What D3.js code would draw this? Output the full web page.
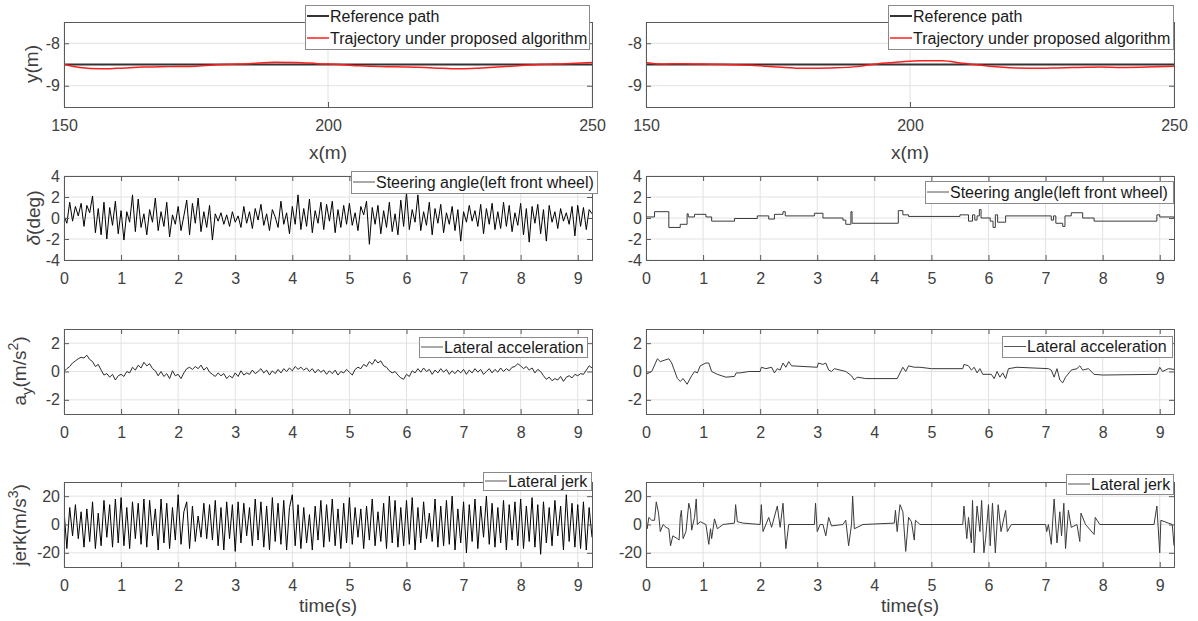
<!DOCTYPE html>
<html>
<head>
<meta charset="utf-8">
<script src="https://cdn.jsdelivr.net/npm/d3@7"></script>
<style>
    body { margin: 0; background: #fff; }
    svg { display: block; font-family: "Liberation Sans", Arial, sans-serif; }
</style>
</head>
<body>
<svg id="chart" width="1198" height="621"></svg>
<script>
// ---- row 1: path tracking ----
var pathX = [150, 153, 157, 160, 165, 170, 175, 180, 185, 190, 194, 198, 202, 206, 210, 215, 220, 225, 228, 232, 236, 240, 245, 250];
var refPathY = [-8.5, -8.5, -8.5, -8.5, -8.5, -8.5, -8.5, -8.5, -8.5, -8.5, -8.5, -8.5, -8.5, -8.5, -8.5, -8.5, -8.5, -8.5, -8.5, -8.5, -8.5, -8.5, -8.5, -8.5];
var trajLeftY = [-8.5, -8.57, -8.6, -8.59, -8.56, -8.55, -8.54, -8.5, -8.48, -8.45, -8.45, -8.48, -8.5, -8.53, -8.55, -8.56, -8.58, -8.6, -8.59, -8.56, -8.53, -8.5, -8.48, -8.45];
var trajRightY = [-8.45, -8.49, -8.48, -8.49, -8.5, -8.52, -8.56, -8.59, -8.58, -8.55, -8.48, -8.44, -8.41, -8.41, -8.47, -8.54, -8.58, -8.59, -8.58, -8.57, -8.56, -8.57, -8.56, -8.54];

// ---- left column, sampled every 0.05 s ----
var SAMPLE_DT = 0.05;
var deltaLeft = [
    0.2, -0.5, 1.5, -0.3, 1.1, 0.2, 1.4, -0.8, 1.2, 0.5, 2.1, -1.4, 0.9, -1.6, 1.5, -2.0, 1.0, -0.7, 1.6, -1.5,
    0.7, -2.1, 0.6, -0.4, 2.2, -1.3, 1.8, -0.9, 0.4, -1.6, 0.8, -0.4, 1.9, -1.2, 0.6, -0.8, 1.5, -1.8, 0.3, -0.6,
    1.1, -1.2, 0.2, 1.7, -1.6, 1.4, -0.5, 1.9, -1.3, 0.6, -0.9, 1.2, -2.1, 0.4, -0.3, 0.5, -0.6, 0.3, -0.8, 0.6,
    -0.4, 0.2, -0.9, 1.1, -0.5, 0.6, -1.0, 0.9, -0.2, 1.3, -0.7, 0.4, -1.2, 0.8, 0.1, -0.9, 1.6, -0.6, 0.5, -1.5,
    1.1, -0.6, 2.2, -1.1, 0.9, -0.8, 1.8, -1.4, 0.7, -0.5, 1.5, -1.1, 1.3, -0.3, 1.6, -1.4, 0.8, -0.9, 1.2, -0.6,
    1.4, -0.7, 0.5, -1.2, 1.1, 0.3, 1.6, -2.5, 1.0, -0.6, 1.2, -1.5, 0.7, -0.9, 1.5, -1.3, 0.4, -1.6, 1.7, -0.8,
    2.4, -1.1, 0.8, -0.4, 2.2, -1.2, 0.6, -0.7, 1.5, -1.6, 0.9, -0.5, 1.3, -1.4, 0.5, -0.6, 1.1, -1.2, 0.8, -2.2,
    0.6, -0.4, 1.2, -0.3, 0.7, -0.8, 1.3, -1.5, 0.9, -0.6, 1.4, -1.1, 0.6, -1.0, 1.5, -0.8, 1.2, -1.3, 0.5, -0.7,
    1.4, -1.6, 0.9, -2.3, 1.1, -0.5, 1.3, -1.5, 0.8, -2.2, 1.2, -0.4, 0.6, -1.0, 0.9, -0.3, 0.5, -0.6, 1.1, -1.7,
    1.2, -0.8, 1.0, -1.1, 0.8, 0.4
];
var ayLeft = [
    0.0, 0.2, 0.35, 0.6, 0.75, 0.9, 1.0, 0.95, 1.15, 0.85, 0.7, 0.35, 0.5, 0.1, -0.25, -0.15, -0.4, -0.2, -0.6, -0.3,
    -0.2, -0.35, 0.0, -0.1, 0.3, 0.1, 0.45, 0.25, 0.65, 0.4, 0.55, 0.2, 0.05, -0.3, 0.0, -0.35, -0.15, -0.5, 0.05, -0.3,
    -0.2, -0.5, -0.1, 0.2, 0.3, 0.15, 0.35, 0.2, 0.45, 0.1, 0.3, -0.05, -0.2, -0.35, -0.1, -0.3, -0.15, -0.5, -0.3, -0.45,
    -0.1, -0.35, 0.05, -0.25, -0.1, -0.2, 0.1, -0.15, 0.0, 0.2, -0.1, 0.1, -0.25, 0.05, -0.15, 0.15, -0.1, 0.2, 0.0, 0.25,
    0.05, 0.35, 0.15, 0.3, 0.1, 0.25, 0.0, 0.2, -0.1, 0.15, -0.05, 0.1, -0.2, 0.05, -0.15, 0.1, -0.25, 0.0, -0.1, 0.15,
    -0.05, -0.25, 0.15, 0.3, 0.2, 0.5, 0.35, 0.7, 0.5, 0.85, 0.6, 0.75, 0.4, 0.3, 0.05, -0.1, 0.0, -0.25, -0.45, -0.55,
    -0.2, -0.35, 0.05, -0.1, 0.2, -0.05, 0.25, 0.0, 0.15, -0.2, 0.1, -0.1, 0.2, -0.05, 0.15, -0.2, 0.05, -0.15, 0.1, -0.1,
    0.15, -0.2, 0.1, -0.1, 0.2, -0.05, 0.15, -0.2, 0.0, 0.2, -0.1, 0.15, -0.05, 0.25, 0.0, 0.2, 0.05, 0.3, 0.35, 0.55,
    0.4, 0.2, 0.35, 0.1, 0.25, -0.1, 0.15, 0.0, -0.3, -0.55, -0.4, -0.65, -0.5, -0.6, -0.35, -0.7, -0.4, -0.3, -0.45, -0.2,
    -0.3, -0.15, -0.2, 0.1, 0.4, 0.25
];
var jerkLeft = [
    10, -17, 12, -8, 14, -10, 9, -16, 11, -12, 16, -17, 8, -15, 17, -9, 14, -16, 18, -13,
    19, -15, 12, -17, 16, -10, 15, -14, 18, -16, 17, -8, 11, -18, 18, -13, 15, -17, 12, -11,
    21, -14, 9, 16, -17, 13, -12, 6, -9, 15, -10, 14, -11, 17, -15, 12, -18, 16, -10, 14,
    -19, 16, -13, 15, -8, 12, -15, 18, -11, 16, -16, 13, -18, 19, -12, 15, -14, 17, -18, 12,
    21, -15, 14, -17, 12, -13, 7, -18, 13, -11, 17, -16, 14, -12, 18, -15, 11, -17, 15, -13,
    19, -14, 12, -9, 11, -17, 13, -11, 18, -15, 9, -12, 15, -17, 20, -13, 17, -16, 12, -15,
    17, -14, 19, -18, 12, -13, 16, -10, 8, -12, 18, -16, 13, -15, 17, -14, 20, -18, 11, -13,
    16, -20, 14, -12, 18, -17, 13, -9, 20, -14, 15, -16, 12, -13, 17, -18, 14, -11, 16, -15,
    18, -17, 13, -12, 19, -16, 14, -21, 16, -13, 12, -15, 17, -8, 13, -18, 21, -12, 15, -16,
    14, -17, 16, -18, 12, -9
];

// ---- right column, breakpoints ----
var deltaRightT = [0, 0.15, 0.4, 0.6, 0.72, 0.74, 0.85, 1.05, 1.15, 1.55, 1.95, 2.15, 2.25, 2.4, 2.44, 2.95, 3.1, 3.45, 3.5, 3.59, 3.61, 4.42, 4.5, 4.6, 5.5, 5.65, 5.72, 5.76, 5.8, 5.84, 5.87, 6.03, 6.08, 6.12, 6.16, 6.3, 7.1, 7.14, 7.18, 7.3, 7.34, 7.45, 7.65, 7.85, 8.95, 9.0, 9.25];
var deltaRight = [0.1, 0.6, -0.9, -0.6, 0.4, 0.1, 0.35, 0.1, -0.3, -0.05, 0.2, -0.1, 0.35, 0.6, 0.2, 0.45, 0, -0.2, -0.6, 0.6, -0.5, 0.7, 0.3, 0.15, 0.3, -0.3, 0.3, -0.2, 0.2, 0.8, 0, -0.3, -0.9, 0.3, -0.4, 0.2, -0.2, 0.2, -0.5, -0.8, 0.2, 0.5, 0, -0.3, 0.3, 0.1, 0];

var ayRightT = [0, 0.1, 0.2, 0.25, 0.4, 0.45, 0.55, 0.6, 0.65, 0.72, 0.8, 0.85, 0.9, 0.95, 1.05, 1.1, 1.15, 1.25, 1.4, 1.55, 1.58, 1.65, 1.8, 2.0, 2.02, 2.1, 2.2, 2.25, 2.3, 2.35, 2.4, 2.45, 2.5, 2.55, 3.0, 3.02, 3.1, 3.15, 3.2, 3.25, 3.3, 3.5, 3.6, 3.65, 3.7, 3.85, 4.4, 4.5, 4.55, 4.6, 4.7, 4.8, 5.0, 5.55, 5.57, 5.65, 5.7, 5.75, 5.8, 5.85, 5.9, 6.05, 6.1, 6.15, 6.2, 6.25, 6.3, 6.35, 6.5, 7.05, 7.1, 7.15, 7.2, 7.25, 7.3, 7.35, 7.45, 7.55, 7.6, 7.65, 7.75, 7.85, 8.0, 8.95, 9.0, 9.05, 9.15, 9.25];
var ayRight = [-0.2, 0, 0.9, 0.7, 0.9, 0.6, -0.5, -0.7, -0.5, -0.9, -0.3, 0, -0.1, 0.4, 0.6, 0.6, 0, -0.2, -0.4, -0.35, -0.1, -0.1, 0, 0, 0.3, 0.2, 0.3, -0.1, 0.2, 0.1, 0.6, 0.3, 0.7, 0.4, 0.3, 0.6, 0.5, 0.6, 0.1, 0, 0.2, 0, -0.3, -0.6, -0.4, -0.5, -0.5, 0.3, 0, 0.4, 0.3, 0.3, 0.2, 0.2, 0.5, 0.4, 0.1, 0.3, -0.1, 0.2, -0.2, -0.2, -0.5, 0, -0.4, -0.1, -0.5, 0.2, 0.3, 0.2, 0.1, -0.4, 0.2, -0.6, -0.8, -0.4, 0.1, 0.2, 0.4, 0.1, 0.2, -0.2, -0.25, -0.2, 0.3, 0, 0.2, 0.15];

var jerkRightT = [0, 0.02, 0.05, 0.1, 0.15, 0.18, 0.22, 0.25, 0.3, 0.35, 0.4, 0.43, 0.47, 0.55, 0.58, 0.6, 0.62, 0.65, 0.7, 0.75, 0.78, 0.8, 0.85, 0.88, 0.9, 0.95, 1.0, 1.05, 1.1, 1.13, 1.15, 1.2, 1.25, 1.35, 1.55, 1.57, 1.6, 1.7, 2.0, 2.02, 2.05, 2.15, 2.2, 2.3, 2.35, 2.4, 2.45, 2.5, 2.95, 2.97, 3.0, 3.05, 3.1, 3.15, 3.2, 3.25, 3.45, 3.5, 3.55, 3.6, 3.62, 3.65, 3.8, 4.35, 4.37, 4.4, 4.45, 4.5, 4.55, 4.6, 4.65, 4.7, 4.72, 4.8, 5.55, 5.57, 5.62, 5.65, 5.7, 5.72, 5.75, 5.8, 5.85, 5.88, 5.92, 5.95, 6.0, 6.03, 6.07, 6.12, 6.17, 6.22, 6.3, 6.33, 6.4, 7.0, 7.02, 7.05, 7.1, 7.15, 7.2, 7.25, 7.28, 7.32, 7.35, 7.4, 7.45, 7.55, 7.6, 7.62, 7.7, 7.85, 7.87, 7.95, 8.9, 8.95, 9.0, 9.02, 9.15, 9.22, 9.25];
var jerkRight = [5, -3, 5, 3, 3, 16, 8, -5, 0, -2, -3, -15, -8, -10, -11, 5, 10, -10, -5, 15, 10, -4, 5, 18, 0, 2, 1, 0, -14, -3, -10, 4, -3, 0, 1, 14, 2, 1, 0, 14, -5, 5, -2, 13, -2, 15, -17, 0, 0, 15, -5, 0, 0, -8, 5, -1, 0, 3, -15, 0, 20, -3, 0, 1, 10, -5, 14, 9, -19, 5, 2, -11, 3, 0, 0, 13, -10, 5, -13, 17, -20, 13, -5, 17, -20, -10, 14, -15, 15, -20, 14, -5, 10, -5, 0, 0, -5, 0, -14, 18, -13, 9, -8, 15, -17, 10, -2, 0, -12, 8, 0, -7, 5, 0, 0, 13, -20, 3, 1, 0, -15];

var pathTicks = [150, 200, 250];
var timeTicks = [0, 1, 2, 3, 4, 5, 6, 7, 8, 9];

var TEXT = '#404040',
    AXIS = '#5a5a5a',
    GRID = '#e2e2e2';

var svg = d3.select('#chart');
var COLS = [{x0: 64, x1: 592}, {x0: 646, x1: 1174}];
var ROWS = [{y0: 22, y1: 107}, {y0: 176, y1: 260}, {y0: 329, y1: 414}, {y0: 482, y1: 567}];
var clipN = 0;

function panel(c, r, xDom, yDom, xTicks, yTicks) {
    var x = d3.scaleLinear().domain(xDom).range([c.x0, c.x1]),
        y = d3.scaleLinear().domain(yDom).range([r.y1, r.y0]);
    var g = svg.append('g');
    var fmt = function (d) { return String(d); };

    g.append('g').selectAll('line').data(xTicks).enter().append('line')
        .attr('x1', x).attr('x2', x).attr('y1', r.y0).attr('y2', r.y1)
        .attr('stroke', GRID);
    g.append('g').selectAll('line').data(yTicks).enter().append('line')
        .attr('y1', y).attr('y2', y).attr('x1', c.x0).attr('x2', c.x1)
        .attr('stroke', GRID);

    var id = 'clip' + (clipN++);
    svg.append('clipPath').attr('id', id).append('rect')
        .attr('x', c.x0).attr('y', r.y0).attr('width', c.x1 - c.x0).attr('height', r.y1 - r.y0);
    var plot = g.append('g').attr('clip-path', 'url(#' + id + ')');

    var axes = g.append('g');
    axes.append('g').attr('transform', 'translate(0,' + r.y1 + ')')
        .call(d3.axisBottom(x).tickValues(xTicks).tickSize(-5).tickPadding(13).tickFormat(fmt));
    axes.append('g').attr('transform', 'translate(0,' + r.y0 + ')')
        .call(d3.axisTop(x).tickValues(xTicks).tickSize(-5).tickFormat(''));
    axes.append('g').attr('transform', 'translate(' + c.x0 + ',0)')
        .call(d3.axisLeft(y).tickValues(yTicks).tickSize(-5).tickPadding(4).tickFormat(fmt));
    axes.append('g').attr('transform', 'translate(' + c.x1 + ',0)')
        .call(d3.axisRight(y).tickValues(yTicks).tickSize(-5).tickFormat(''));
    axes.selectAll('.domain').remove();
    axes.selectAll('.tick line').attr('stroke', AXIS);
    axes.selectAll('.tick text').attr('fill', TEXT)
        .style('font-size', '16px').style('font-family', '"Liberation Sans", Arial, sans-serif');

    g.append('rect')
        .attr('x', c.x0 + 0.5).attr('y', r.y0 + 0.5)
        .attr('width', c.x1 - c.x0).attr('height', r.y1 - r.y0)
        .attr('fill', 'none').attr('stroke', AXIS);

    return {x: x, y: y, plot: plot};
}

function drawLine(p, xs, ys, color, width, curve) {
    var line = d3.line()
        .x(function (d) { return p.x(d[0]); })
        .y(function (d) { return p.y(d[1]); })
        .curve(curve || d3.curveLinear);
    p.plot.append('path')
        .datum(xs.map(function (v, i) { return [v, ys[i]]; }))
        .attr('d', line)
        .attr('fill', 'none')
        .attr('stroke', color)
        .attr('stroke-width', width)
        .attr('stroke-linejoin', 'round');
}

function legend(x0, y0, w, h, items) {
    var g = svg.append('g');
    g.append('rect')
        .attr('x', x0 + 0.5).attr('y', y0 + 0.5).attr('width', w).attr('height', h)
        .attr('fill', '#fff').attr('stroke', '#8a8a8a');
    var step = h / items.length;
    items.forEach(function (it, i) {
        var cy = y0 + step * (i + 0.5);
        g.append('line')
            .attr('x1', x0 + 2).attr('x2', x0 + 24).attr('y1', cy).attr('y2', cy)
            .attr('stroke', it.color).attr('stroke-width', it.width || 1);
        g.append('text')
            .attr('x', x0 + 25).attr('y', cy).attr('dy', '0.35em')
            .attr('fill', '#1a1a1a').style('font-size', '16px')
            .text(it.label);
    });
}

function label(x, y, rotate, parts, size) {
    var t = svg.append('text')
        .attr('transform', 'translate(' + x + ',' + y + ')' + (rotate ? ' rotate(-90)' : ''))
        .attr('text-anchor', 'middle')
        .attr('dy', '0.35em')
        .attr('fill', TEXT)
        .style('font-size', size + 'px');
    parts.forEach(function (p) {
        var s = t.append('tspan').text(p.t);
        if (p.dy) s.attr('dy', p.dy);
        if (p.size) s.style('font-size', p.size + 'px');
        if (p.italic) s.style('font-style', 'italic');
    });
}

var tLeft = deltaLeft.map(function (v, i) { return i * SAMPLE_DT; });

// row 1
var rowPaths = [trajLeftY, trajRightY];
COLS.forEach(function (c, k) {
    var p = panel(c, ROWS[0], [150, 250], [-9.5, -7.5], pathTicks, [-9, -8]);
    drawLine(p, pathX, refPathY, '#333', 2);
    drawLine(p, pathX, rowPaths[k], '#ff1f1f', 1.5, d3.curveMonotoneX);
    label((c.x0 + c.x1) / 2, 152, false, [{t: 'x(m)'}], 19);
});
legend(305, 5, 284, 44, [{label: 'Reference path', color: '#333', width: 2}, {label: 'Trajectory under proposed algorithm', color: '#ff1f1f', width: 1.5}]);
legend(888, 5, 285, 44, [{label: 'Reference path', color: '#333', width: 2}, {label: 'Trajectory under proposed algorithm', color: '#ff1f1f', width: 1.5}]);
label(31, 64, true, [{t: 'y(m)'}], 19);

// row 2: steering angle
var p2l = panel(COLS[0], ROWS[1], [0, 9.25], [-4, 4], timeTicks, [-4, -2, 0, 2, 4]);
drawLine(p2l, tLeft, deltaLeft, '#000', 1);
var p2r = panel(COLS[1], ROWS[1], [0, 9.25], [-4, 4], timeTicks, [-4, -2, 0, 2, 4]);
drawLine(p2r, deltaRightT, deltaRight, '#3a3a3a', 1, d3.curveStepAfter);
legend(351, 171, 246, 22, [{label: 'Steering angle(left front wheel)', color: '#555'}]);
legend(925, 181, 248, 22, [{label: 'Steering angle(left front wheel)', color: '#555'}]);
label(33, 218, true, [{t: 'δ', italic: true}, {t: '(deg)'}], 19);

// row 3: lateral acceleration
var p3l = panel(COLS[0], ROWS[2], [0, 9.25], [-3, 3], timeTicks, [-2, 0, 2]);
drawLine(p3l, tLeft, ayLeft, '#2a2a2a', 1);
var p3r = panel(COLS[1], ROWS[2], [0, 9.25], [-3, 3], timeTicks, [-2, 0, 2]);
drawLine(p3r, ayRightT, ayRight, '#3a3a3a', 1);
legend(419, 337, 168, 20, [{label: 'Lateral acceleration', color: '#555'}]);
legend(1002, 336, 170, 21, [{label: 'Lateral acceleration', color: '#555'}]);
label(19, 371, true, [{t: 'a'}, {t: 'y', dy: 6, size: 15}, {t: '(m/s', dy: -6}, {t: '2', dy: -8, size: 14}, {t: ')', dy: 8}], 19);

// row 4: lateral jerk
var p4l = panel(COLS[0], ROWS[3], [0, 9.25], [-30, 30], timeTicks, [-20, 0, 20]);
drawLine(p4l, tLeft, jerkLeft, '#000', 1);
var p4r = panel(COLS[1], ROWS[3], [0, 9.25], [-30, 30], timeTicks, [-20, 0, 20]);
drawLine(p4r, jerkRightT, jerkRight, '#3a3a3a', 1);
legend(483, 472, 108, 18, [{label: 'Lateral jerk', color: '#555'}]);
legend(1066, 474, 107, 20, [{label: 'Lateral jerk', color: '#555'}]);
label(19, 525, true, [{t: 'jerk(m/s'}, {t: '3', dy: -8, size: 14}, {t: ')', dy: 8}], 19);

label(328, 605, false, [{t: 'time(s)'}], 19);
label(910, 605, false, [{t: 'time(s)'}], 19);
</script>
</body>
</html>
